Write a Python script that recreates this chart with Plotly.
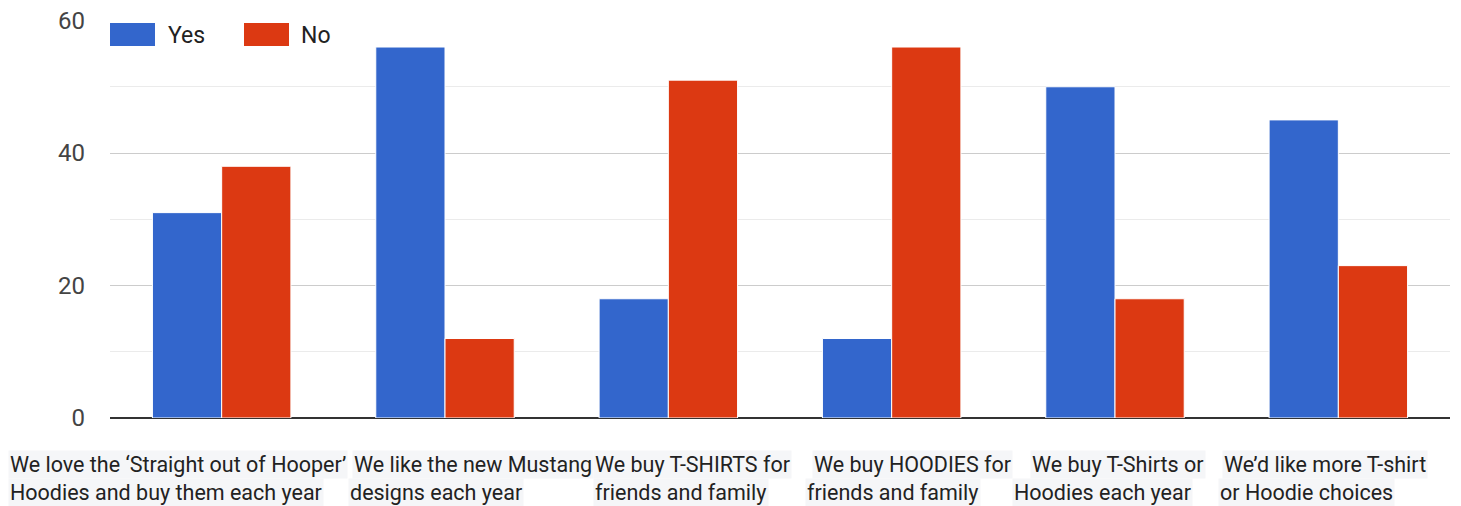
import plotly.graph_objects as go

categories = ["Q1", "Q2", "Q3", "Q4", "Q5", "Q6"]
label_line1 = ["We love the \u2018Straight out of Hooper\u2019", "We like the new Mustang",
               "We buy T-SHIRTS for", "We buy HOODIES for", "We buy T-Shirts or",
               "We\u2019d like more T-shirt"]
label_line2 = ["Hoodies and buy them each year", "designs each year", "friends and family",
               "friends and family", "Hoodies each year", "or Hoodie choices"]
yes_values = [31, 56, 18, 12, 50, 45]
no_values = [38, 12, 51, 56, 18, 23]
y_ticks = [0, 20, 40, 60]

# page body has an 8px margin; the figure is sized to fill the rest of the window
OFF = 8
W, H = 1461 - OFF, 506 - OFF
L, R, T, B = 110 - OFF, 11, 20 - OFF, 506 - 418
PW, PH = W - L - R, H - T - B

def px(x):  # window pixel -> paper
    return (x - OFF - L) / PW

def py(y):
    return (OFF + H - B - y) / PH

BLUE = "#3366cc"
RED = "#dc3912"

fig = go.Figure()
fig.add_trace(go.Bar(x=categories, y=yes_values, name="Yes", marker=dict(color=BLUE, line=dict(color="white", width=1))))
fig.add_trace(go.Bar(x=categories, y=no_values, name="No", marker=dict(color=RED, line=dict(color="white", width=1))))

# category labels (two lines each, placed like the original)
line1_left = [8, 352, 593, 812, 1030, 1222]
line2_left = [8, 348, 593, 805, 1012, 1218]
for i in range(len(categories)):
    for txt, lx, yc in ((label_line1[i], line1_left[i], 464), (label_line2[i], line2_left[i], 492)):
        fig.add_annotation(text=txt, xref="paper", yref="paper", x=px(lx), y=py(yc),
                           xanchor="left", yanchor="middle", showarrow=False,
                           font=dict(family="Roboto", size=21.5, color="#222222"),
                           bgcolor="#f5f6f8", borderpad=1)

# legend drawn as swatches + text
for color, name, x0, tx in ((BLUE, "Yes", 110, 166), (RED, "No", 244, 299)):
    fig.add_shape(type="rect", xref="paper", yref="paper", x0=px(x0), x1=px(x0 + 45),
                  y0=py(46), y1=py(23), fillcolor=color, line=dict(width=0))
    fig.add_annotation(text=name, xref="paper", yref="paper", x=px(tx), y=py(35),
                       xanchor="left", yanchor="middle", showarrow=False,
                       font=dict(family="Roboto", size=23, color="#222222"))

fig.update_layout(
    width=W, height=H,
    margin=dict(l=L, r=R, t=T, b=B, autoexpand=False),
    paper_bgcolor="white", plot_bgcolor="white",
    barmode="group", bargap=0.38, bargroupgap=0.0,
    showlegend=False,
    font=dict(family="Roboto"),
    xaxis=dict(showticklabels=False, showgrid=False, zeroline=False, showline=False, ticks="",
               automargin=False),
    yaxis=dict(range=[0, 60.08], tickvals=y_ticks, showgrid=True, gridcolor="#cccccc", gridwidth=1,
               minor=dict(dtick=10, showgrid=True, gridcolor="#ebebeb", gridwidth=1),
               zeroline=True, zerolinecolor="#333333", zerolinewidth=2,
               tickfont=dict(family="Roboto", size=24, color="#444444"),
               ticks="", ticklabelstandoff=24, ticklabeloverflow="allow", automargin=False),
)

fig.write_html("out.html")
